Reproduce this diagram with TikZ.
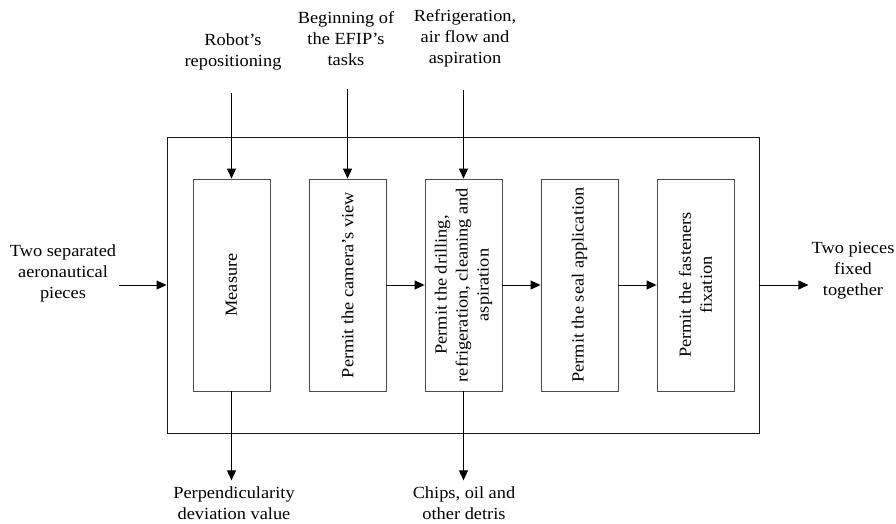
\documentclass[tikz,border=0pt]{standalone}
\usepackage{fontspec}
\setmainfont{Liberation Serif}[FakeStretch=1.08]
\usetikzlibrary{arrows.meta}
\colorlet{boxBorder}{black!70}
\colorlet{frameBorder}{black!90}

\begin{document}
\begin{tikzpicture}[
  x=1pt,
  y=-1pt,
  font=\fontsize{17}{21}\selectfont,
  every node/.style={
    align=center,
    inner sep=3pt,
  },
  frame/.style={
    draw=frameBorder,
    line width=0.9pt,
    minimum width=592pt,
    minimum height=296pt,
  },
  process/.style={
    draw=boxBorder,
    line width=0.9pt,
    rotate=90,
    minimum width=212pt,
    minimum height=77pt,
  },
  flow/.style={
    -{Triangle[length=10pt,width=9pt]},
    line width=0.9pt,
  }
]
\useasboundingbox (0,0) rectangle (896,523);
\node[frame] (frame) at (463,285) {};
\foreach \name/\task [count=\i] in {measure/Measure, camera/Permit the camera's view, drill/{Permit the drilling,\\refrigeration, cleaning and\\aspiration}, seal/Permit the seal application, fasten/{Permit the fasteners\\fixation}}
{
  \node[process] (\name) at (115.5+116*\i,285) {\task};
}
\node (pieces) at (63,273) {Two separated\\aeronautical\\pieces};
\node (fixed) at (853,271) {Two pieces\\fixed\\together};
\node (robot) at (233,52) {Robot's\\repositioning};
\node (efip) at (346,38.5) {Beginning of\\the EFIP's\\tasks};
\node (cool) at (465,38.5) {Refrigeration,\\air flow and\\aspiration};
\node (perp) at (234,503) {Perpendicularity\\deviation value};
\node (chips) at (464,503) {Chips, oil and\\other detris};

\draw[flow] (pieces.east |- frame.west) -- (frame.west);
\draw[flow] (frame.east) -- (frame.east -| fixed.west);
\foreach \src/\dst in {robot/measure,efip/camera,cool/drill}
  \draw[flow,shorten <=20pt] (\src.south -| \dst.east) -- (\dst.east);
\foreach \a/\b in {camera/drill,drill/seal,seal/fasten}
  \draw[flow] (\a.south) -- (\b.north);
\foreach \src/\dst in {measure/perp,drill/chips}
  \draw[flow,shorten >=3pt] (\src.west) -- (\src.west |- \dst.north);
\end{tikzpicture}
\end{document}
